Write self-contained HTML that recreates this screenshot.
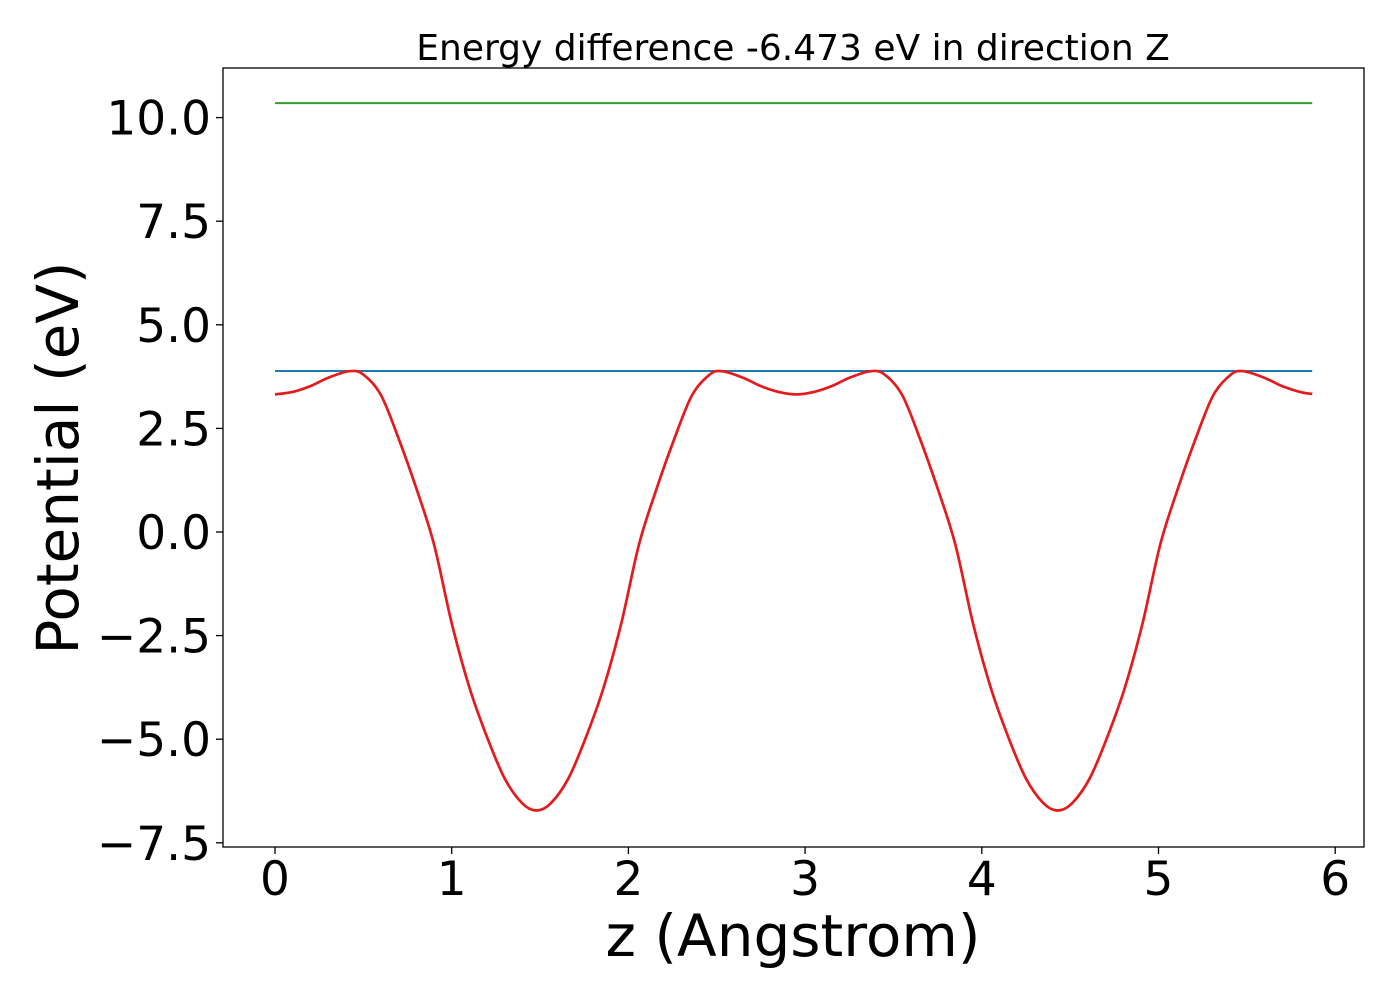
<!DOCTYPE html>
<html><head><meta charset="utf-8"><style>
body{margin:0;background:#fff}
svg text{font-family:"DejaVu Sans","Liberation Sans",sans-serif;fill:#000}
</style></head><body>
<svg id="chart" width="1400" height="1000" xmlns="http://www.w3.org/2000/svg">
<rect width="1400" height="1000" fill="#fff"/>
<text x="793" y="60" font-size="36" text-anchor="middle">Energy difference -6.473 eV in direction Z</text>
<g id="plot"></g>
<rect x="223" y="68" width="1141" height="779" fill="none" stroke="#000" stroke-width="1.3"/>
<text x="793" y="956" font-size="58" text-anchor="middle">z (Angstrom)</text>
<text transform="translate(78,458) rotate(-90)" font-size="58" text-anchor="middle">Potential (eV)</text>
</svg>
<script>
const xTicks=[0,1,2,3,4,5,6];
const yTicks=[10.0,7.5,5.0,2.5,0.0,-2.5,-5.0,-7.5];
const upperLevel=10.35;
const barrierLevel=3.885;
const zValues=[0,0.1,0.2,0.3,0.42,0.5,0.6,0.7,0.8,0.9,1.0,1.1,1.2,1.3,1.4,1.48,1.56,1.66,1.76,1.86,1.96,2.06,2.16,2.26,2.36,2.46,2.53,2.65,2.75,2.85,2.95,
3.05,3.15,3.25,3.37,3.45,3.55,3.65,3.75,3.85,3.95,4.05,4.15,4.25,4.35,4.43,4.51,4.61,4.71,4.81,4.91,5.01,5.11,5.21,5.31,5.41,5.48,5.6,5.7,5.8,5.87];
const potential=[3.32,3.38,3.52,3.72,3.88,3.8,3.3,2.25,1.05,-0.3,-2.2,-3.75,-4.95,-5.95,-6.55,-6.72,-6.55,-5.95,-4.95,-3.75,-2.2,-0.3,1.05,2.25,3.3,3.8,3.88,3.72,3.52,3.38,3.32,
3.38,3.52,3.72,3.88,3.8,3.3,2.25,1.05,-0.3,-2.2,-3.75,-4.95,-5.95,-6.55,-6.72,-6.55,-5.95,-4.95,-3.75,-2.2,-0.3,1.05,2.25,3.3,3.8,3.88,3.72,3.52,3.38,3.33];
const X=v=>275+v*176.7;
const Y=v=>532-v*41.44;
const NS="http://www.w3.org/2000/svg";
const g=document.getElementById('plot');
function mk(t,a){const e=document.createElementNS(NS,t);for(const k in a)e.setAttribute(k,a[k]);g.appendChild(e);return e;}
xTicks.forEach(t=>{
 const l=mk('line',{x1:X(t),x2:X(t),y1:847,y2:854,stroke:'#000','stroke-width':1.3});
 
 
 const tx=mk('text',{x:X(t),y:895,'font-size':47,'text-anchor':'middle'});
 tx.textContent=t;
 
 
});
yTicks.forEach(t=>{
 const l=mk('line',{x1:216,x2:223,y1:Y(t),y2:Y(t),stroke:'#000','stroke-width':1.3});
 
 
 const tx=mk('text',{x:211,y:Y(t)+17,'font-size':47,'text-anchor':'end'});
 tx.textContent=(t<0?'\u2212':'')+Math.abs(t).toFixed(1);
 
 
});
const x0=X(zValues[0]),x1=X(zValues[zValues.length-1]);
const gl=mk('line',{x1:x0,x2:x1,y1:Y(upperLevel),y2:Y(upperLevel),stroke:'#2ca02c','stroke-width':2});


const bl=mk('line',{x1:x0,x2:x1,y1:Y(barrierLevel),y2:Y(barrierLevel),stroke:'#1f77b4','stroke-width':2});


const pts=zValues.map((z,i)=>[X(z),Y(potential[i])]);
let d='M'+pts[0][0]+','+pts[0][1];
for(let i=0;i<pts.length-1;i++){
 const p0=pts[Math.max(0,i-1)],p1=pts[i],p2=pts[i+1],p3=pts[Math.min(pts.length-1,i+2)];
 const c1=[p1[0]+(p2[0]-p0[0])/6,p1[1]+(p2[1]-p0[1])/6];
 const c2=[p2[0]-(p3[0]-p1[0])/6,p2[1]-(p3[1]-p1[1])/6];
 d+=' C'+c1[0]+','+c1[1]+' '+c2[0]+','+c2[1]+' '+p2[0]+','+p2[1];
}
const pl=mk('path',{d:d,fill:'none',stroke:'#e41a1c','stroke-width':2.7});


</script>
</body></html>
